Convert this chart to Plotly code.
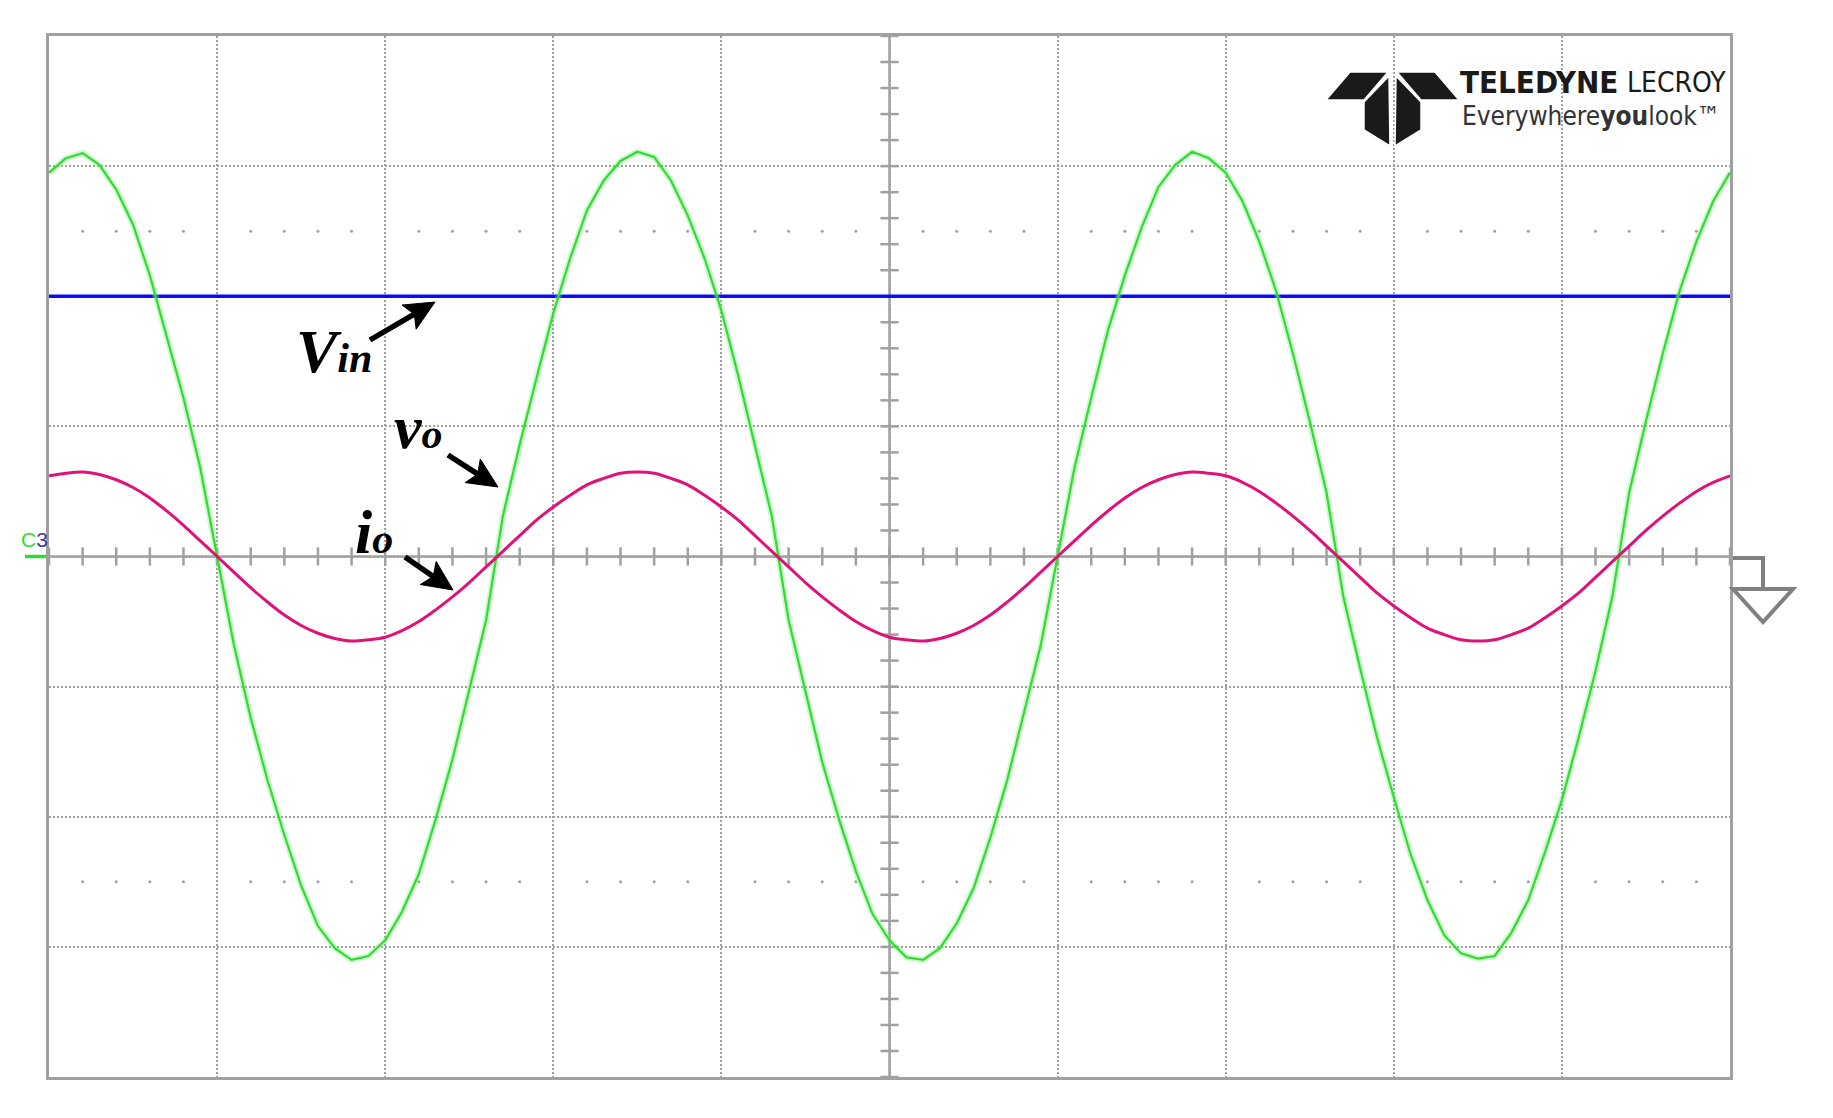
import math
import plotly.graph_objects as go

# oscilloscope screen: 10 x 8 divisions, all values in divisions
T0 = 0.0
DT = 0.1  # sample step, div

VO = [2.95, 3.06, 3.10, 3.01, 2.82, 2.55, 2.16, 1.70, 1.22, 0.68,
      0.00, -0.68, -1.24, -1.72, -2.14, -2.53, -2.84, -3.01, -3.10, -3.07,
      -2.95, -2.73, -2.44, -2.02, -1.56, -1.02, -0.49, 0.31, 0.86, 1.37,
      1.87, 2.29, 2.66, 2.89, 3.04, 3.11, 3.07, 2.89, 2.62, 2.29,
      1.89, 1.39, 0.86, 0.31, -0.49, -1.04, -1.58, -2.02, -2.42, -2.75,
      -2.95, -3.08, -3.10, -3.01, -2.82, -2.55, -2.16, -1.72, -1.20, -0.68,
      0.00, 0.68, 1.22, 1.74, 2.16, 2.53, 2.84, 3.01, 3.11, 3.06,
      2.95, 2.73, 2.42, 2.04, 1.56, 1.04, 0.49, -0.31, -0.86, -1.39,
      -1.85, -2.29, -2.64, -2.91, -3.05, -3.09, -3.07, -2.89, -2.64, -2.27,
      -1.87, -1.39, -0.88, -0.31, 0.49, 1.04, 1.56, 2.04, 2.42, 2.73,
      2.95]

IO = [0.62, 0.64, 0.65, 0.63, 0.59, 0.53, 0.45, 0.35, 0.24, 0.12,
      0.00, -0.12, -0.24, -0.35, -0.45, -0.53, -0.59, -0.63, -0.65, -0.64,
      -0.62, -0.57, -0.50, -0.41, -0.31, -0.20, -0.08, 0.04, 0.16, 0.28,
      0.38, 0.47, 0.55, 0.60, 0.64, 0.65, 0.64, 0.60, 0.55, 0.47,
      0.38, 0.28, 0.16, 0.04, -0.08, -0.20, -0.31, -0.41, -0.50, -0.57,
      -0.62, -0.64, -0.65, -0.63, -0.59, -0.53, -0.45, -0.35, -0.24, -0.12,
      0.00, 0.12, 0.24, 0.35, 0.45, 0.53, 0.59, 0.63, 0.65, 0.64,
      0.62, 0.57, 0.50, 0.41, 0.31, 0.20, 0.08, -0.04, -0.16, -0.28,
      -0.38, -0.47, -0.55, -0.60, -0.64, -0.65, -0.64, -0.60, -0.55, -0.47,
      -0.38, -0.28, -0.16, -0.04, 0.08, 0.20, 0.31, 0.41, 0.50, 0.57,
      0.62]

VIN_T = [0.0, 10.0]
VIN = [2.0, 2.0]

GRID = "#a0a0a0"
GREEN = "#30dc30"
PINK = "#e0127a"
BLUE = "#0a0aff"

# page geometry (body has an 8px margin)
W, H = 1817, 1102
ML, MT, MR, MB = 41, 28, 95, 33
PW, PH = W - ML - MR, H - MT - MB


def px(x):
    return (x - 8 - ML) / PW


def py(y):
    return 1 - (y - 8 - MT) / PH


def poly_path(pts):
    return "M " + " L ".join(f"{px(a)} {py(b)}" for a, b in pts) + " Z"


def arrow_shapes(tip, tail, head=30, half=14, width=5.5):
    ux, uy = tip[0] - tail[0], tip[1] - tail[1]
    n = math.hypot(ux, uy)
    ux, uy = ux / n, uy / n
    bx, by = tip[0] - ux * head, tip[1] - uy * head
    nx, ny = -uy, ux
    pts = [tip, (bx + nx * half, by + ny * half), (tip[0] - ux * head * 0.8, tip[1] - uy * head * 0.8),
           (bx - nx * half, by - ny * half)]
    sx, sy = tip[0] - ux * head * 0.8, tip[1] - uy * head * 0.8
    return [
        dict(type="line", xref="paper", yref="paper", x0=px(tail[0]), y0=py(tail[1]), x1=px(sx), y1=py(sy),
             line=dict(color="black", width=width)),
        dict(type="path", xref="paper", yref="paper", path=poly_path(pts), fillcolor="black",
             line=dict(color="black", width=1)),
    ]


fig = go.Figure()

# graticule ticks on the centre lines and dotted rows
tx = [i * 0.2 for i in range(51)]
ty = [-4 + j * 0.2 for j in range(41)]
fig.add_trace(go.Scatter(x=tx, y=[0] * len(tx), mode="markers", hoverinfo="skip",
                         marker=dict(symbol="line-ns", size=13, line=dict(width=2.5, color=GRID))))
fig.add_trace(go.Scatter(x=[5] * len(ty), y=ty, mode="markers", hoverinfo="skip",
                         marker=dict(symbol="line-ew", size=13, line=dict(width=2.5, color=GRID))))
dx = [i * 0.2 for i in range(1, 50) if i % 5]
fig.add_trace(go.Scatter(x=dx + dx, y=[2.5] * len(dx) + [-2.5] * len(dx), mode="markers",
                         hoverinfo="skip", marker=dict(symbol="circle", size=3, color=GRID)))

fig.add_trace(go.Scatter(x=VIN_T, y=VIN, mode="lines", line=dict(color=BLUE, width=3.5), name="Vin"))
fig.add_trace(go.Scatter(x0=T0, dx=DT, y=VO, mode="lines", line=dict(color="rgba(120,235,120,0.35)", width=6),
                         hoverinfo="skip"))
fig.add_trace(go.Scatter(x0=T0, dx=DT, y=VO, mode="lines", line=dict(color=GREEN, width=2.2), name="vo"))
fig.add_trace(go.Scatter(x0=T0, dx=DT, y=IO, mode="lines", line=dict(color=PINK, width=3, shape="spline"),
                         name="io"))

shapes = [
    dict(type="line", xref="x", yref="paper", x0=5, x1=5, y0=0, y1=1, line=dict(color=GRID, width=2.5),
         layer="below"),
    dict(type="line", xref="paper", yref="y", x0=0, x1=1, y0=0, y1=0, line=dict(color=GRID, width=2.5),
         layer="below"),
    # channel marker on the left
    dict(type="line", xref="paper", yref="y", x0=px(25), x1=px(46), y0=0, y1=0, line=dict(color=GREEN, width=3.5)),
    # ground marker on the right
    dict(type="path", xref="paper", yref="paper",
         path=f"M {px(1733)} {py(558)} L {px(1763)} {py(558)} L {px(1763)} {py(589)}",
         line=dict(color="#808080", width=4)),
    dict(type="path", xref="paper", yref="paper",
         path=f"M {px(1733)} {py(589)} L {px(1793)} {py(589)} L {px(1763)} {py(622)} Z",
         line=dict(color="#808080", width=4)),
]

# Teledyne logo glyph
logo = [
    [(1326, 100), (1350, 72), (1388, 72), (1364, 100)],
    [(1459, 100), (1435, 72), (1397, 72), (1421, 100)],
    [(1364, 102), (1389, 76), (1390, 146), (1364, 130)],
    [(1421, 102), (1396, 76), (1395, 146), (1421, 130)],
]
for pts in logo:
    shapes.append(dict(type="path", xref="paper", yref="paper", path=poly_path(pts),
                       fillcolor="#1a1a1a", line=dict(color="white", width=1.5)))

for tip, tail in [((435, 302), (370, 340)), ((498, 487), (448, 455)), ((453, 590), (405, 557))]:
    shapes += arrow_shapes(tip, tail)

serif = dict(family="Liberation Serif, Times New Roman, serif", size=62, color="black")
sans_n = "Liberation Sans Narrow, DejaVu Sans Condensed, Roboto Condensed, Liberation Sans"
sub = "<span style='font-size:42px'>"
annotations = [
    dict(text=f"<b><i>V{sub}in</span></i></b>", x=px(294), y=py(351), xref="paper", yref="paper",
         xanchor="left", yanchor="middle", showarrow=False, font=serif),
    dict(text=f"<b><i>v{sub}o</span></i></b>", x=px(392), y=py(427), xref="paper", yref="paper",
         xanchor="left", yanchor="middle", showarrow=False, font=serif),
    dict(text=f"<b><i>i{sub}o</span></i></b>", x=px(353), y=py(532), xref="paper", yref="paper",
         xanchor="left", yanchor="middle", showarrow=False, font=serif),
    dict(text="<b>TELEDYNE</b>", x=px(1619), y=py(82), xref="paper", yref="paper",
         xanchor="right", yanchor="middle", showarrow=False, borderpad=0,
         font=dict(family=sans_n, size=31, color="#1a1a1a")),
    dict(text="LECROY", x=px(1626), y=py(82), xref="paper", yref="paper",
         xanchor="left", yanchor="middle", showarrow=False, borderpad=0,
         font=dict(family=sans_n, size=28, color="#1a1a1a")),
    dict(text="Everywhere<b>you</b>look™", x=px(1591), y=py(116), xref="paper", yref="paper",
         xanchor="center", yanchor="middle", showarrow=False, borderpad=0,
         font=dict(family=sans_n, size=26, color="#333333")),
    dict(text="C<span style='color:#3a3aa8'>3</span>", x=px(19), y=py(539), xref="paper", yref="paper",
         xanchor="left", yanchor="middle", showarrow=False,
         font=dict(family="Liberation Sans, Arial", size=21, color=GREEN)),
]

fig.update_layout(
    width=W, height=H, autosize=False,
    margin=dict(l=ML, r=MR, t=MT, b=MB),
    paper_bgcolor="white", plot_bgcolor="white",
    showlegend=False, hovermode=False,
    shapes=shapes, annotations=annotations,
)
fig.update_xaxes(range=[0, 10], dtick=1, tick0=0, showgrid=True, gridcolor=GRID, griddash="2px,2px",
                 gridwidth=1.5, showticklabels=False, ticks="", zeroline=False,
                 showline=True, mirror=True, linecolor=GRID, linewidth=3)
fig.update_yaxes(range=[-4, 4], dtick=1, tick0=0, showgrid=True, gridcolor=GRID, griddash="2px,2px",
                 gridwidth=1.5, showticklabels=False, ticks="", zeroline=False,
                 showline=True, mirror=True, linecolor=GRID, linewidth=3)

fig.write_html("out.html")
